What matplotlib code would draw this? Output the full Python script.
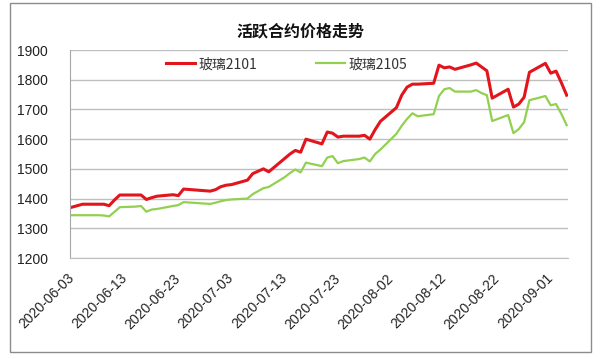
import matplotlib
matplotlib.use("Agg")
import matplotlib.pyplot as plt
import matplotlib.dates as mdates
from matplotlib.patches import Rectangle
import pandas as pd

plt.rcParams['font.family'] = ['Liberation Sans', 'Noto Sans CJK SC', 'DejaVu Sans']

dates = [
    "2020-06-03", "2020-06-04", "2020-06-05", "2020-06-08", "2020-06-09", "2020-06-10",
    "2020-06-11", "2020-06-12", "2020-06-15", "2020-06-16", "2020-06-17", "2020-06-18",
    "2020-06-19", "2020-06-22", "2020-06-23", "2020-06-24", "2020-06-29", "2020-06-30",
    "2020-07-01", "2020-07-02", "2020-07-03", "2020-07-06", "2020-07-07", "2020-07-08",
    "2020-07-09", "2020-07-10", "2020-07-13", "2020-07-14", "2020-07-15", "2020-07-16",
    "2020-07-17", "2020-07-20", "2020-07-21", "2020-07-22", "2020-07-23", "2020-07-24",
    "2020-07-27", "2020-07-28", "2020-07-29", "2020-07-30", "2020-07-31", "2020-08-03",
    "2020-08-04", "2020-08-05", "2020-08-06", "2020-08-07", "2020-08-10", "2020-08-11",
    "2020-08-12", "2020-08-13", "2020-08-14", "2020-08-17", "2020-08-18", "2020-08-19",
    "2020-08-20", "2020-08-21", "2020-08-24", "2020-08-25", "2020-08-26", "2020-08-27",
    "2020-08-28", "2020-08-31", "2020-09-01", "2020-09-02", "2020-09-03", "2020-09-04",
]

glass_2101 = [
    1371, 1376, 1381, 1381, 1381, 1376,
    1395, 1412, 1412, 1412, 1397, 1403,
    1408, 1413, 1410, 1432, 1425, 1430,
    1440, 1445, 1447, 1462, 1484, 1492,
    1500, 1490, 1535, 1550, 1562, 1556,
    1600, 1584, 1624, 1620, 1607, 1610,
    1610, 1613, 1600, 1632, 1660, 1706,
    1748, 1775, 1785, 1785, 1788, 1849,
    1840, 1843, 1835, 1850, 1856, 1843,
    1830, 1738, 1768, 1708, 1718, 1741,
    1825, 1855, 1822, 1829, 1790, 1748,
]

glass_2105 = [
    1344, 1344, 1344, 1344, 1343, 1340,
    1355, 1371, 1373, 1375, 1356, 1363,
    1365, 1375, 1378, 1388, 1382, 1386,
    1391, 1395, 1397, 1400, 1415, 1425,
    1435, 1439, 1472, 1486, 1498, 1488,
    1521, 1509, 1538, 1543, 1519, 1526,
    1533, 1538, 1525, 1550, 1565, 1618,
    1645, 1668, 1687, 1677, 1684, 1745,
    1768, 1772, 1760, 1760, 1765, 1755,
    1748, 1661, 1681, 1620, 1634, 1657,
    1731, 1745, 1714, 1718, 1685, 1647,
]

tick_labels = ["2020-06-03", "2020-06-13", "2020-06-23", "2020-07-03", "2020-07-13",
               "2020-07-23", "2020-08-02", "2020-08-12", "2020-08-22", "2020-09-01"]
y_ticks = [1200, 1300, 1400, 1500, 1600, 1700, 1800, 1900]

title = "活跃合约价格走势"
series_names = ["玻璃2101", "玻璃2105"]

x = pd.to_datetime(dates)
tick_dates = pd.to_datetime(tick_labels)

fig = plt.figure(figsize=(6.0, 3.59), dpi=100)
fig.patch.set_facecolor('white')
# outer chart border
fig.patches.append(Rectangle((10/600, 1-352/359), 581/600, 349/359, transform=fig.transFigure,
                             fill=False, edgecolor='#8c8c8c', linewidth=1.0))

ax = fig.add_axes([70/600, 1-258/359, 498/600, 208/359])
ax.plot(x, glass_2101, color='#E2141C', linewidth=2.2, label=series_names[0], solid_joinstyle='round')
ax.plot(x, glass_2105, color='#92D050', linewidth=1.6, label=series_names[1], solid_joinstyle='round')

ax.set_ylim(1200, 1900)
ax.set_yticks(y_ticks)
ax.set_yticklabels([str(v) for v in y_ticks], fontsize=10, color='#222222')
ax.set_xlim(mdates.date2num(x[0]) - 0.35, mdates.date2num(x[-1]) + 0.25)
ax.set_xticks(tick_dates)
ax.set_xticklabels(tick_labels, rotation=45, ha='right', va='center', rotation_mode='anchor',
                   fontsize=10, color='#222222')
ax.tick_params(axis='both', length=0)
ax.tick_params(axis='x', pad=13)
ax.tick_params(axis='y', pad=16)

ax.grid(axis='y', color='#BFBFBF', linewidth=1.0)
ax.set_axisbelow(True)
for s in ['top', 'right']:
    ax.spines[s].set_visible(False)
ax.spines['left'].set_color('#A6A6A6')
ax.spines['bottom'].set_color('#BFBFBF')

fig.text(0.5, 1-31/359, title, ha='center', va='center', fontsize=11.5, fontweight='bold',
         family=['Noto Sans CJK SC', 'DejaVu Sans'], color='#111111')

leg = ax.legend(loc='upper center', bbox_to_anchor=(0.435, 1.025), ncol=2, frameon=False,
                handlelength=2.1, columnspacing=4.2, handletextpad=0.25,
                prop={'family': ['Noto Sans CJK SC', 'DejaVu Sans'], 'size': 10})
for t in leg.get_texts():
    t.set_color('#333333')

fig.savefig("out.png", dpi=100)
